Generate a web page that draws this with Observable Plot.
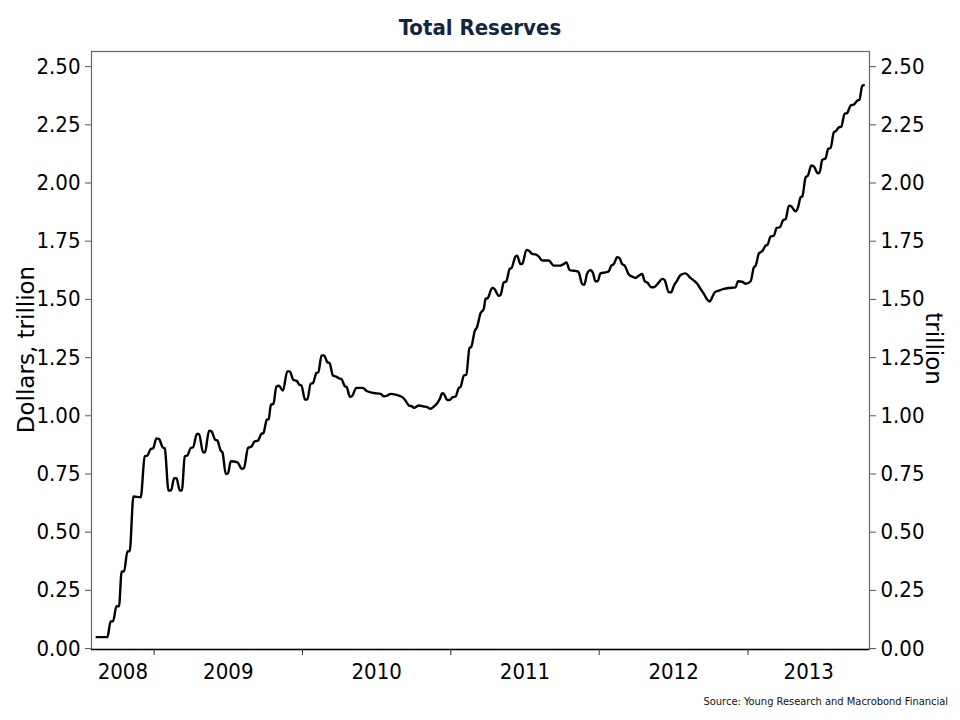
<!DOCTYPE html>
<html>
<head>
<meta charset="utf-8">
<script src="https://cdn.jsdelivr.net/npm/d3@7"></script>
<script src="https://cdn.jsdelivr.net/npm/@observablehq/plot@0.6"></script>
<style>
  html, body { margin: 0; padding: 0; background: #fff; }
  #wrap { position: relative; width: 960px; height: 720px; overflow: hidden; background: #fff; }
  #title { position: absolute; left: 0; top: 14px; width: 960px; text-align: center; font-family: "DejaVu Sans Condensed", "DejaVu Sans", sans-serif; font-stretch: condensed; font-weight: bold; font-size: 22px; line-height: 28px; color: #12263f; }
  #chart { position: absolute; left: 0; top: 40px; }
  #source { position: absolute; right: 12px; top: 695px; font-family: "DejaVu Sans Condensed", "DejaVu Sans", sans-serif; font-stretch: condensed; font-size: 11px; line-height: 14px; color: #111; }
  .wide-label { font-stretch: normal !important; }
</style>
</head>
<body>
<div id="wrap">
  <div id="title">Total Reserves</div>
  <div id="chart"></div>
  <div id="source">Source: Young Research and Macrobond Financial</div>
</div>
<script>
// Decimal-year dates
const dates = [
2008.614,2008.686,2008.708,2008.724,2008.747,2008.764,2008.782,2008.798,2008.821,2008.836,
2008.861,2008.910,2008.937,2008.956,2008.978,2008.993,2009.016,2009.034,2009.057,2009.072,
2009.097,2009.114,2009.135,2009.151,2009.173,2009.187,2009.207,2009.225,2009.247,2009.263,
2009.288,2009.303,2009.330,2009.343,2009.370,2009.387,2009.411,2009.427,2009.449,2009.461,
2009.483,2009.498,2009.517,2009.562,2009.591,2009.606,2009.633,2009.656,2009.678,2009.700,
2009.723,2009.737,2009.759,2009.772,2009.788,2009.804,2009.824,2009.842,2009.868,2009.898,
2009.914,2009.939,2009.961,2009.979,2009.993,2010.017,2010.033,2010.055,2010.071,2010.094,
2010.107,2010.129,2010.145,2010.168,2010.183,2010.205,2010.224,2010.246,2010.262,2010.286,
2010.298,2010.320,2010.333,2010.363,2010.407,2010.430,2010.459,2010.481,2010.527,2010.549,
2010.572,2010.594,2010.628,2010.650,2010.673,2010.695,2010.717,2010.740,2010.751,2010.785,
2010.818,2010.841,2010.863,2010.886,2010.908,2010.926,2010.942,2010.953,2010.976,2010.991,
2011.013,2011.032,2011.054,2011.065,2011.088,2011.104,2011.126,2011.137,2011.162,2011.176,
2011.200,2011.222,2011.234,2011.249,2011.279,2011.294,2011.323,2011.335,2011.357,2011.373,
2011.397,2011.409,2011.436,2011.447,2011.469,2011.481,2011.510,2011.525,2011.548,2011.570,
2011.593,2011.616,2011.660,2011.694,2011.739,2011.761,2011.779,2011.801,2011.828,2011.851,
2011.862,2011.885,2011.900,2011.918,2011.941,2011.959,2011.974,2011.990,2012.008,2012.043,
2012.064,2012.081,2012.098,2012.121,2012.136,2012.154,2012.172,2012.199,2012.222,2012.244,
2012.266,2012.289,2012.304,2012.327,2012.349,2012.367,2012.401,2012.423,2012.439,2012.468,
2012.484,2012.502,2012.524,2012.547,2012.581,2012.609,2012.636,2012.659,2012.681,2012.704,
2012.722,2012.744,2012.760,2012.778,2012.805,2012.838,2012.872,2012.917,2012.933,2012.962,
2012.984,2013.018,2013.040,2013.052,2013.074,2013.097,2013.119,2013.131,2013.153,2013.175,
2013.193,2013.215,2013.238,2013.254,2013.276,2013.292,2013.321,2013.337,2013.355,2013.366,
2013.389,2013.404,2013.427,2013.444,2013.471,2013.483,2013.501,2013.523,2013.541,2013.557,
2013.579,2013.591,2013.613,2013.629,2013.651,2013.669,2013.692,2013.714,2013.737,2013.752,
2013.770,2013.781
];
// Total reserves, trillions of dollars
const reserves = [
0.049,0.049,0.117,0.117,0.182,0.182,0.331,0.331,0.418,0.418,
0.653,0.650,0.825,0.830,0.858,0.860,0.903,0.900,0.865,0.860,
0.679,0.679,0.732,0.732,0.679,0.679,0.825,0.830,0.862,0.865,
0.922,0.922,0.843,0.843,0.936,0.933,0.898,0.893,0.850,0.843,
0.750,0.753,0.805,0.800,0.772,0.776,0.862,0.868,0.890,0.893,
0.922,0.926,0.982,0.986,1.048,1.051,1.125,1.129,1.108,1.191,
1.191,1.154,1.150,1.133,1.130,1.070,1.070,1.137,1.141,1.184,
1.187,1.259,1.259,1.230,1.226,1.173,1.169,1.161,1.158,1.127,
1.123,1.082,1.084,1.120,1.120,1.108,1.101,1.098,1.094,1.084,
1.087,1.094,1.091,1.087,1.080,1.065,1.044,1.040,1.034,1.044,
1.040,1.037,1.030,1.040,1.054,1.073,1.097,1.094,1.068,1.068,
1.080,1.083,1.120,1.123,1.173,1.176,1.292,1.295,1.366,1.380,
1.440,1.459,1.502,1.506,1.549,1.545,1.516,1.519,1.573,1.577,
1.631,1.635,1.684,1.688,1.652,1.652,1.713,1.710,1.696,1.693,
1.684,1.667,1.667,1.645,1.645,1.652,1.659,1.626,1.623,1.621,
1.616,1.567,1.563,1.610,1.626,1.612,1.578,1.578,1.612,1.616,
1.621,1.645,1.652,1.681,1.678,1.652,1.645,1.607,1.598,1.592,
1.602,1.609,1.581,1.570,1.552,1.552,1.573,1.588,1.584,1.531,
1.531,1.559,1.581,1.605,1.612,1.595,1.581,1.567,1.545,1.524,
1.503,1.491,1.510,1.531,1.538,1.545,1.549,1.552,1.578,1.576,
1.567,1.578,1.638,1.645,1.698,1.708,1.731,1.734,1.770,1.774,
1.807,1.810,1.841,1.845,1.903,1.900,1.878,1.895,1.939,1.942,
2.025,2.032,2.075,2.071,2.042,2.046,2.099,2.106,2.147,2.151,
2.218,2.222,2.239,2.242,2.297,2.301,2.333,2.337,2.354,2.358,
2.418,2.420
];
const yearLabels = ["2008", "2009", "2010", "2011", "2012", "2013"];
const yTicks = [0, 0.25, 0.5, 0.75, 1.0, 1.25, 1.5, 1.75, 2.0, 2.25, 2.5];
const xDomainDates = ["2008-07-31", "2013-10-27"];
const yDomain = [-0.004, 2.565];

function decYear(t) {
  const y = Math.floor(t);
  const s = Date.UTC(y, 0, 1), e = Date.UTC(y + 1, 0, 1);
  return new Date(s + (t - y) * (e - s));
}
const data = dates.map((t, i) => ({date: decYear(t), value: reserves[i]}));
const xDomain = xDomainDates.map(d => new Date(d + "T00:00:00Z"));
const boundaries = yearLabels.slice(1).map(y => new Date(Date.UTC(+y, 0, 1)));
const labelData = yearLabels.map(y => {
  const s = Math.max(Date.UTC(+y, 0, 1), +xDomain[0]);
  const e = Math.min(Date.UTC(+y + 1, 0, 1), +xDomain[1]);
  return {year: y, mid: new Date((s + e) / 2)};
});

const tickFont = '"DejaVu Sans Condensed", "DejaVu Sans", sans-serif';
const fmt = d3.format(".2f");

const chart = Plot.plot({
  width: 960,
  height: 660,
  marginLeft: 91,
  marginRight: 91,
  marginTop: 11,
  marginBottom: 51,
  style: {fontFamily: tickFont, fontSize: "22px", fontStretch: "condensed", color: "#000", background: "transparent", overflow: "visible"},
  x: {type: "utc", domain: xDomain},
  y: {domain: yDomain},
  marks: [
    Plot.frame({stroke: "#666", strokeWidth: 1.2}),
    Plot.ruleY([yDomain[0]], {stroke: "#000", strokeWidth: 1.4}),
    Plot.axisY({anchor: "left", ticks: yTicks, tickFormat: fmt, tickSize: 6, tickPadding: 5, label: null, stroke: "#555", fill: "#000"}),
    Plot.axisY({anchor: "right", ticks: yTicks, tickFormat: fmt, tickSize: 6, tickPadding: 5, label: null, stroke: "#555", fill: "#000"}),
    Plot.axisX({ticks: boundaries, tickFormat: () => "", tickSize: 6, label: null, stroke: "#333"}),
    Plot.text(labelData, {x: "mid", text: "year", frameAnchor: "bottom", dy: 29, fontSize: 22, fill: "#000"}),
    Plot.text(["Dollars, trillion"], {frameAnchor: "left", textAnchor: "middle", dx: -65, dy: -1, rotate: -90, fontSize: 23, fill: "#000", fontFamily: '"DejaVu Sans", sans-serif', className: "wide-label"}),
    Plot.text(["trillion"], {frameAnchor: "right", textAnchor: "middle", dx: 64, dy: -2, rotate: 90, fontSize: 23, fill: "#000", fontFamily: '"DejaVu Sans", sans-serif', className: "wide-label"}),
    Plot.line(data, {x: "date", y: "value", stroke: "#000", strokeWidth: 2.4, curve: "monotone-x"})
  ]
});
// Axis titles use the normal-width face, tick labels the condensed one
d3.select(chart).selectAll("text").filter(function () {
  return this.textContent === "Dollars, trillion" || this.textContent === "trillion";
}).style("font-stretch", "normal");
document.getElementById("chart").appendChild(chart);
</script>
</body>
</html>
